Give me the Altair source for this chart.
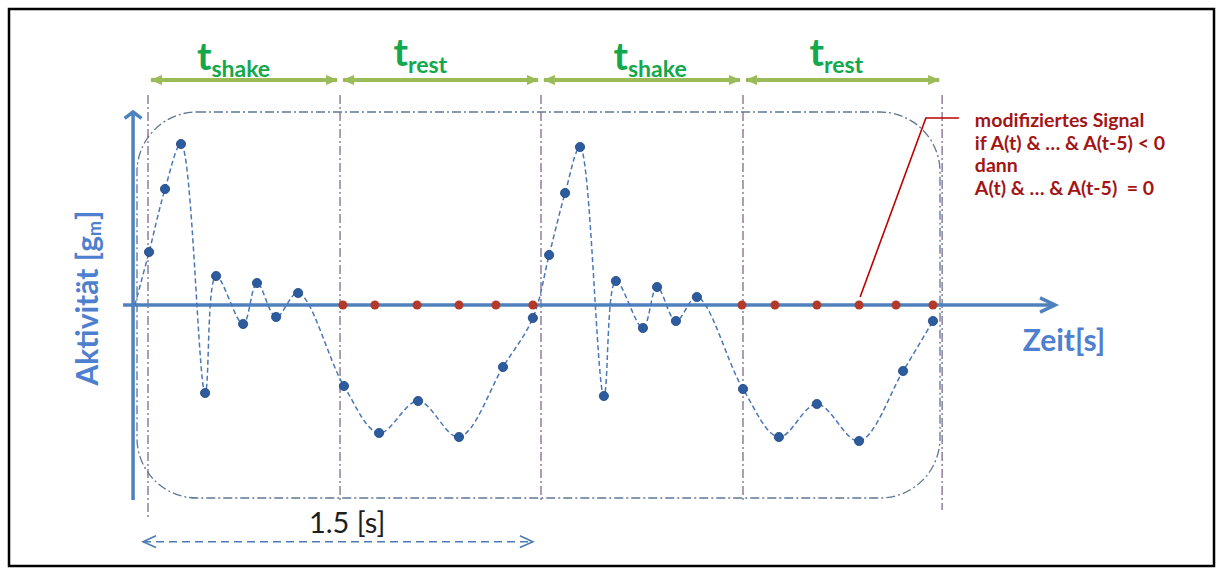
import altair as alt
import pandas as pd

# ---------------------------------------------------------------------------
# Activity signal over two shake/rest cycles (time in s, activity in g_m)
# ---------------------------------------------------------------------------
sample_time = [0.004, 0.065, 0.126, 0.218, 0.260, 0.363, 0.416, 0.489, 0.573,
               0.748, 0.882, 1.031, 1.187, 1.355, 1.469,
               1.531, 1.592, 1.649, 1.740, 1.786, 1.889, 1.943, 2.015, 2.095,
               2.271, 2.408, 2.553, 2.714, 2.882, 2.996]
activity = [0.53, 1.16, 1.61, -0.88, 0.29, -0.19, 0.22, -0.12, 0.12,
            -0.81, -1.28, -0.96, -1.32, -0.62, -0.13,
            0.50, 1.12, 1.58, -0.91, 0.24, -0.23, 0.18, -0.16, 0.08,
            -0.84, -1.32, -0.99, -1.36, -0.66, -0.16]
# the dashed curve leaves the origin before the first sample
curve_origin_time = -0.05
curve_origin_value = 0.0

# modified signal in the rest phases: negative runs are set to zero
modified_time = [0.744, 0.866, 1.027, 1.187, 1.328, 1.469,
                 2.267, 2.393, 2.553, 2.714, 2.855, 2.996]
modified_value = [0.0, 0.0, 0.0, 0.0, 0.0, 0.0,
                  0.0, 0.0, 0.0, 0.0, 0.0, 0.0]

# phases
phase_bounds = [0.0, 0.733, 1.5, 2.271, 3.031]
phase_names = ["shake", "rest", "shake", "rest"]
phase_label_time = [0.242, 0.992, 1.832, 2.580]
phase_arrow_level = 2.25
guide_top = 2.10
guide_bottom = [-2.15, -1.95, -1.95, -1.95, -2.05]

# coordinate axes of the sketch
time_axis = [-0.095, 3.462]
activity_axis = [-1.95, 1.93]
activity_axis_time = -0.057

# rounded frame around the signal
box_time = [-0.042, 3.023]
box_value = [-1.93, 1.93]

# one period = 1.5 s
period = [-0.019, 1.469]
period_level = -2.367
period_label = "1.5 [s]"
period_label_time = 0.76
period_label_level = -2.28

# annotation for the modified signal
note_time = [2.718, 2.969, 3.095]
note_value = [0.08, 1.87, 1.87]
note_text = ("modifiziertes Signal\nif A(t) & \u2026 & A(t-5) < 0\ndann\n"
             "A(t) & \u2026 & A(t-5) \u00a0= 0")

X_DOMAIN = [-0.5305, 4.0687]
Y_DOMAIN = [-2.61, 2.96]

BLUE_AXIS = "#4f81bd"
LABEL_BLUE = "#4f7fcf"
GREEN_ARROW = "#9bbb59"
GREEN_TEXT = "#12a84b"
DARK_RED = "#a31515"
FONT = "Lato"

xs = alt.Scale(domain=X_DOMAIN, nice=False, zero=False)
ys = alt.Scale(domain=Y_DOMAIN, nice=False, zero=False)


def X(field):
    return alt.X(field, type="quantitative", scale=xs, axis=None)


def Y(field):
    return alt.Y(field, type="quantitative", scale=ys, axis=None)


# ---- data tables ----
signal = pd.DataFrame({"t": sample_time, "a": activity})
curve = pd.concat([pd.DataFrame({"t": [curve_origin_time], "a": [curve_origin_value]}),
                   signal], ignore_index=True)
curve["i"] = range(len(curve))
modified = pd.DataFrame({"t": modified_time, "a": modified_value})

guides = pd.DataFrame({"t": phase_bounds, "top": [guide_top] * len(phase_bounds),
                       "bottom": guide_bottom})
phases = pd.DataFrame({"t0": phase_bounds[:-1], "t1": phase_bounds[1:],
                       "lvl": [phase_arrow_level] * len(phase_names),
                       "name": phase_names, "lt": phase_label_time})
shake = phases[phases["name"] == "shake"].assign(tb=2.355, sb=2.28)
rest = phases[phases["name"] == "rest"].assign(tb=2.39, sb=2.325)

box = pd.DataFrame({"t0": [box_time[0]], "t1": [box_time[1]],
                    "a0": [box_value[0]], "a1": [box_value[1]]})
taxis = pd.DataFrame({"t0": [time_axis[0]], "t1": [time_axis[1]], "a": [0.0]})
aaxis = pd.DataFrame({"t": [activity_axis_time], "a0": [activity_axis[0]],
                      "a1": [activity_axis[1]]})
taxis_tip = pd.DataFrame({"t": [time_axis[1]], "a": [0.0]})
aaxis_tip = pd.DataFrame({"t": [activity_axis_time], "a": [activity_axis[1]]})

per = pd.DataFrame({"t0": [period[0]], "t1": [period[1]], "a": [period_level]})
per_l = pd.DataFrame({"t": [period[0]], "a": [period_level]})
per_r = pd.DataFrame({"t": [period[1]], "a": [period_level]})
per_text = pd.DataFrame({"t": [period_label_time], "a": [period_label_level],
                         "txt": [period_label]})

note = pd.DataFrame({"t": note_time, "a": note_value, "i": [0, 1, 2]})
note_lbl = pd.DataFrame({"t": [3.156], "a": [1.78], "txt": [note_text]})

zeit = pd.DataFrame({"t": [3.496], "a": [-0.46], "txt": ["Zeit[s]"]})
akt = pd.DataFrame({"t": [-0.191], "a": [0.69]})

# arrow-head shapes (tip at the symbol's centre)
HEAD_RIGHT_OPEN = "M -1 -0.47 L 0 0 L -1 0.47"
HEAD_UP_OPEN = "M -1 0.75 L 0 0 L 1 0.75"
HEAD_RIGHT_FILL = "M 0 0 L -1 -0.42 L -1 0.42 Z"
HEAD_LEFT_FILL = "M 0 0 L 1 -0.42 L 1 0.42 Z"
HEAD_RIGHT_THIN = "M -1 -0.45 L 0 0 L -1 0.45"
HEAD_LEFT_THIN = "M 1 -0.45 L 0 0 L 1 0.45"

layers = []

# rounded dash-dot frame
layers.append(alt.Chart(box).mark_rect(
    fillOpacity=0, stroke="#5f7791", strokeWidth=1.3, strokeDash=[9, 3, 2, 3],
    cornerRadius=60).encode(x=X("t0"), x2="t1", y=Y("a0"), y2="a1"))

# phase boundaries
layers.append(alt.Chart(guides).mark_rule(
    color="#7d6b8f", strokeWidth=1.3, strokeDash=[9, 3, 2, 3]).encode(
    x=X("t"), y=Y("top"), y2="bottom"))

# phase arrows
layers.append(alt.Chart(phases).mark_rule(
    color=GREEN_ARROW, strokeWidth=4, xOffset=3, x2Offset=-3).encode(
    x=X("t0"), x2="t1", y=Y("lvl")))
layers.append(alt.Chart(phases).mark_point(
    shape=HEAD_LEFT_FILL, filled=True, size=576, opacity=1, color=GREEN_ARROW,
    xOffset=2).encode(x=X("t0"), y=Y("lvl")))
layers.append(alt.Chart(phases).mark_point(
    shape=HEAD_RIGHT_FILL, filled=True, size=576, opacity=1, color=GREEN_ARROW,
    xOffset=-2).encode(x=X("t1"), y=Y("lvl")))

# phase labels t_shake / t_rest
for df in (shake, rest):
    layers.append(alt.Chart(df).mark_text(
        text="t", align="right", baseline="alphabetic", font=FONT, fontWeight="bold",
        fontSize=39, color=GREEN_TEXT).encode(x=X("lt"), y=Y("tb")))
    layers.append(alt.Chart(df).mark_text(
        align="left", baseline="alphabetic", font=FONT, fontWeight="bold",
        fontSize=23, color=GREEN_TEXT, dx=0).encode(
        x=X("lt"), y=Y("sb"), text="name:N"))

# coordinate axes
layers.append(alt.Chart(taxis).mark_rule(color=BLUE_AXIS, strokeWidth=3.5).encode(
    x=X("t0"), x2="t1", y=Y("a")))
layers.append(alt.Chart(aaxis).mark_rule(color=BLUE_AXIS, strokeWidth=3.5).encode(
    x=X("t"), y=Y("a0"), y2="a1"))
layers.append(alt.Chart(taxis_tip).mark_point(
    shape=HEAD_RIGHT_OPEN, size=900, color=BLUE_AXIS, strokeWidth=3.5, opacity=1,
    filled=False).encode(x=X("t"), y=Y("a")))
layers.append(alt.Chart(aaxis_tip).mark_point(
    shape=HEAD_UP_OPEN, size=289, color=BLUE_AXIS, strokeWidth=3.5, opacity=1,
    filled=False).encode(x=X("t"), y=Y("a")))

# signal curve and samples
layers.append(alt.Chart(curve).mark_line(
    interpolate="catmull-rom", color="#4a78b5", strokeWidth=1.5,
    strokeDash=[5, 3]).encode(x=X("t"), y=Y("a"), order="i:Q"))
layers.append(alt.Chart(modified).mark_circle(
    size=80, color="#b3392b", opacity=1).encode(x=X("t"), y=Y("a")))
layers.append(alt.Chart(signal).mark_circle(
    size=85, color="#2c5c9e", opacity=1, stroke="#1d4580", strokeWidth=0.8).encode(
    x=X("t"), y=Y("a")))

# annotation of the modified signal
layers.append(alt.Chart(note).mark_line(color="#c00000", strokeWidth=1.6).encode(
    x=X("t"), y=Y("a"), order="i:Q"))
layers.append(alt.Chart(note_lbl).mark_text(
    align="left", baseline="alphabetic", lineBreak="\n", lineHeight=22.5,
    font=FONT, fontWeight="bold", fontSize=19.5, color=DARK_RED).encode(
    x=X("t"), y=Y("a"), text="txt:N"))

# axis titles
layers.append(alt.Chart(zeit).mark_text(
    align="center", baseline="alphabetic", font=FONT, fontWeight="bold",
    fontSize=30, color=LABEL_BLUE).encode(x=X("t"), y=Y("a"), text="txt:N"))
layers.append(alt.Chart(akt).mark_text(
    text="Aktivität [g", angle=270, align="right", baseline="alphabetic", font=FONT,
    fontWeight="bold", fontSize=30, color=LABEL_BLUE).encode(x=X("t"), y=Y("a")))
layers.append(alt.Chart(akt).mark_text(
    text="m", angle=270, align="left", baseline="alphabetic", font=FONT,
    fontWeight="bold", fontSize=18, dy=3, color=LABEL_BLUE).encode(x=X("t"), y=Y("a")))
layers.append(alt.Chart(akt).mark_text(
    text="]", angle=270, align="left", baseline="alphabetic", font=FONT,
    fontWeight="bold", fontSize=30, dx=16, color=LABEL_BLUE).encode(x=X("t"), y=Y("a")))

# period of 1.5 s
layers.append(alt.Chart(per).mark_rule(
    color="#4d7ab5", strokeWidth=1.6, strokeDash=[8, 5]).encode(
    x=X("t0"), x2="t1", y=Y("a")))
layers.append(alt.Chart(per_l).mark_point(
    shape=HEAD_LEFT_THIN, size=676, color="#4d7ab5", strokeWidth=1.6, opacity=1,
    filled=False).encode(x=X("t"), y=Y("a")))
layers.append(alt.Chart(per_r).mark_point(
    shape=HEAD_RIGHT_THIN, size=676, color="#4d7ab5", strokeWidth=1.6, opacity=1,
    filled=False).encode(x=X("t"), y=Y("a")))
layers.append(alt.Chart(per_text).mark_text(
    align="center", baseline="alphabetic", font=FONT, fontSize=29,
    color="#1e1e1e").encode(x=X("t"), y=Y("a"), text="txt:N"))

chart = alt.layer(*layers).properties(
    width=1205, height=557,
    padding={"left": 9, "top": 9, "right": 9, "bottom": 6},
    autosize=alt.AutoSizeParams(type="none"),
    background="white",
).configure_view(stroke="black", strokeWidth=2.5)

chart.save("out.html", embed_options={"renderer": "svg", "actions": False})
